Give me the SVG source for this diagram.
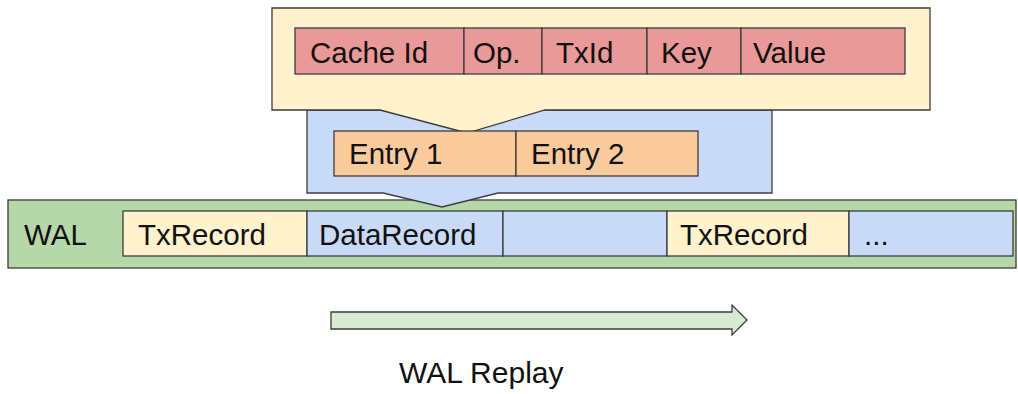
<svg xmlns="http://www.w3.org/2000/svg" width="1018" height="394" viewBox="0 0 1018 394">
  <style>
    .s{stroke:#3c3c3c;stroke-width:1.3}
    .y{fill:#fff2cc}.b{fill:#c9daf8}.r{fill:#ea9999}.o{fill:#f9cb9c}.g{fill:#b6d7a8}.lg{fill:#d9ead3}
    text{font-family:"Liberation Sans",Arial,sans-serif;font-size:29.5px;fill:#111}
  </style>
  <rect width="1018" height="394" fill="#ffffff"/>
  <g id="wal">
    <rect class="s g" x="8" y="200" width="1008" height="68"/>
    <text x="24" y="245">WAL</text>
  </g>
  <g id="wal-txrecord-1">
    <rect class="s y" x="123" y="211" width="184" height="45"/>
    <text x="138" y="245">TxRecord</text>
  </g>
  <g id="wal-datarecord">
    <rect class="s b" x="307" y="211" width="196" height="45"/>
    <text x="319" y="245">DataRecord</text>
  </g>
  <g id="wal-empty">
    <rect class="s b" x="503" y="211" width="164" height="45"/>
  </g>
  <g id="wal-txrecord-2">
    <rect class="s y" x="667" y="211" width="182" height="45"/>
    <text x="680" y="245">TxRecord</text>
  </g>
  <g id="wal-more">
    <rect class="s b" x="849" y="211" width="164" height="45"/>
    <text x="864" y="245">...</text>
  </g>
  <g id="datarecord-callout">
    <path class="s b" d="M307,110 H772 V193 H498 L442,207 L383,193 H307 Z"/>
  </g>
  <g id="entry-callout">
    <path class="s y" d="M272,8 H930 V110 H545 L467,133 L380,110 H272 Z"/>
  </g>
  <g id="entry-fields">
    <rect class="s r" x="295" y="28" width="169" height="46"/>
    <text x="310" y="63">Cache Id</text>
    <rect class="s r" x="464" y="28" width="78" height="46"/>
    <text x="473" y="63">Op.</text>
    <rect class="s r" x="542" y="28" width="105" height="46"/>
    <text x="556" y="63">TxId</text>
    <rect class="s r" x="647" y="28" width="94" height="46"/>
    <text x="661" y="63">Key</text>
    <rect class="s r" x="741" y="28" width="164" height="46"/>
    <text x="753" y="63">Value</text>
  </g>
  <g id="entries">
    <rect class="s o" x="334" y="131" width="182" height="45"/>
    <text x="349" y="164">Entry 1</text>
    <rect class="s o" x="516" y="131" width="182" height="45"/>
    <text x="531" y="164">Entry 2</text>
  </g>
  <g id="connectors">
    <path class="s lg" d="M331,312 H732 V305 L747,320 L732,335 V329 H331 Z"/>
  </g>
  <g id="replay-label">
    <text x="399" y="383" style="font-size:30px">WAL Replay</text>
  </g>
</svg>
